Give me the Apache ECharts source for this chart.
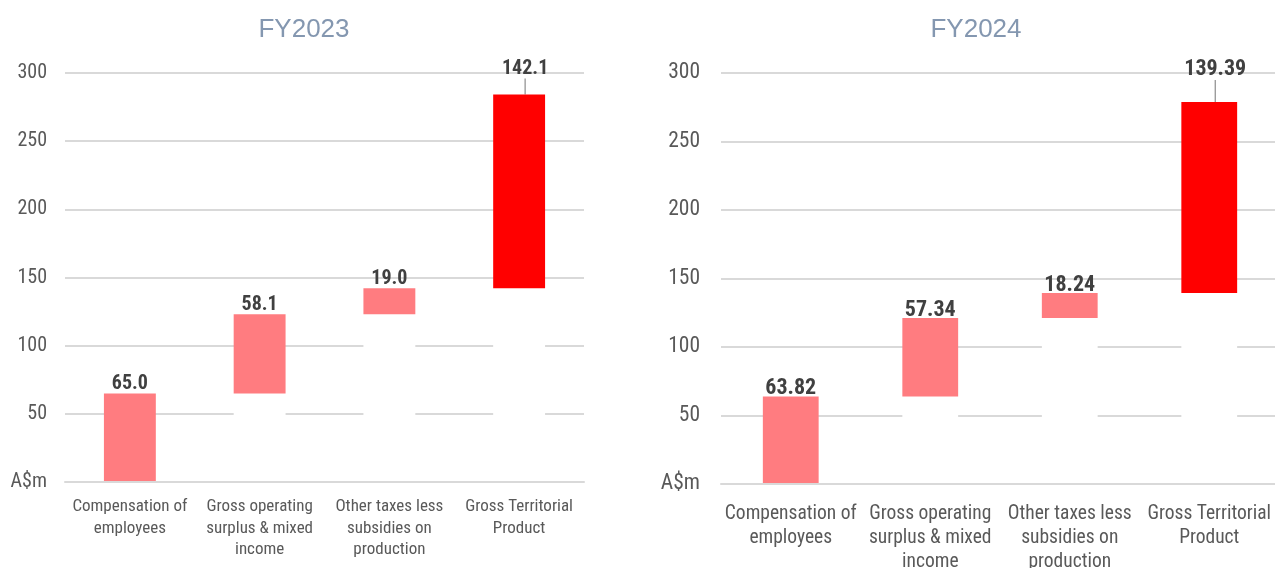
<!DOCTYPE html>
<html>
<head>
<meta charset="utf-8">
<script src="https://cdn.jsdelivr.net/npm/echarts@6/dist/echarts.min.js"></script>
<style>
  html, body { margin: 0; padding: 0; background: #ffffff; }
  #chart { width: 1275px; height: 568px; }
</style>
</head>
<body>
<div id="chart"></div>
<script>
// Components of Gross Territorial Product, A$m
const categories = [
  'Compensation of\nemployees',
  'Gross operating\nsurplus & mixed\nincome',
  'Other taxes less\nsubsidies on\nproduction',
  'Gross Territorial\nProduct'
];
const fy2023Values = [65.0, 58.1, 19.0, 142.1];
const fy2024Values = [63.82, 57.34, 18.24, 139.39];
const panelTitles = ['FY2023', 'FY2024'];
const valueDecimals = [1, 2];
const zeroTickLabel = 'A$m';

const COLOR_PART = '#ff7c80';
const COLOR_TOTAL = '#ff0000';
const GRID_LINE = '#d9d9d9';
const TEXT_GREY = '#595959';
const LABEL_DARK = '#404040';
const TITLE_BLUE = '#8497b0';
const NARROW = '"Roboto Condensed", "Liberation Sans", sans-serif';

// Running base under each bar: parts start where the previous part ended,
// the total bar sits on the sum of the parts.
function waterfallBase(values) {
  const base = [];
  let run = 0;
  values.forEach((v, i) => {
    base.push(run);
    if (i < values.length - 1) run += v;
  });
  return base;
}

const panels = [
  { values: fy2023Values, grid: { left: 65, top: 73, width: 519, height: 409 },
    catFont: 17, catLine: 21.5, catMargin: 14, valFont: 20, valDist: -1, totalShift: [6, -17],
    yFont: 20, yMargin: 18, titleX: 299 },
  { values: fy2024Values, grid: { left: 721, top: 73, width: 558, height: 411 },
    catFont: 19.5, catLine: 24, catMargin: 18, valFont: 22, valDist: -3, totalShift: [6, -25],
    yFont: 21.5, yMargin: 21, titleX: 971 }
];

const option = {
  animation: false,
  backgroundColor: '#ffffff',
  title: panels.map((p, k) => ({
    text: panelTitles[k],
    left: p.titleX, top: 12, textAlign: 'center',
    textStyle: { color: TITLE_BLUE, fontSize: 26, fontWeight: 'normal',
                 fontFamily: '"Liberation Sans", Arial, sans-serif' }
  })),
  grid: panels.map(p => Object.assign({ containLabel: false, outerBoundsMode: 'none' }, p.grid)),
  xAxis: panels.map((p, k) => ({
    type: 'category', gridIndex: k, data: categories, z: 5,
    axisLine: { show: true, lineStyle: { color: GRID_LINE, width: 2 } },
    axisTick: { show: false },
    axisLabel: { interval: 0, color: TEXT_GREY, fontSize: p.catFont,
                 lineHeight: p.catLine, margin: p.catMargin,
                 fontFamily: NARROW }
  })),
  yAxis: panels.map((p, k) => ({
    type: 'value', gridIndex: k, min: 0, max: 300, interval: 50,
    axisLine: { show: false }, axisTick: { show: false },
    splitLine: { lineStyle: { color: GRID_LINE, width: 2 } },
    axisLabel: { color: TEXT_GREY, fontSize: p.yFont, margin: p.yMargin,
                 fontFamily: NARROW,
                 formatter: v => (v === 0 ? zeroTickLabel : String(v)) }
  })),
  series: []
};

panels.forEach((p, k) => {
  const last = p.values.length - 1;
  option.series.push({
    type: 'bar', xAxisIndex: k, yAxisIndex: k, stack: 'wf' + k,
    barCategoryGap: '60%', silent: true,
    itemStyle: { color: '#ffffff' },
    data: waterfallBase(p.values)
  });
  option.series.push({
    type: 'bar', xAxisIndex: k, yAxisIndex: k, stack: 'wf' + k,
    barCategoryGap: '60%',
    itemStyle: { color: params => (params.dataIndex === last ? COLOR_TOTAL : COLOR_PART) },
    label: {
      show: true, position: 'top', distance: p.valDist,
      color: LABEL_DARK, fontWeight: 'bold', fontSize: p.valFont, fontFamily: NARROW,
      formatter: params => params.value.toFixed(valueDecimals[k])
    },
    labelLine: { show: true, lineStyle: { color: '#8c8c8c', width: 1.2 } },
    labelLayout: params => (params.dataIndex === last
      ? { dx: p.totalShift[0], dy: p.totalShift[1] } : {}),
    data: p.values
  });
});

const chart = echarts.init(document.getElementById('chart'), null, { renderer: 'canvas' });
chart.setOption(option);
</script>
</body>
</html>
